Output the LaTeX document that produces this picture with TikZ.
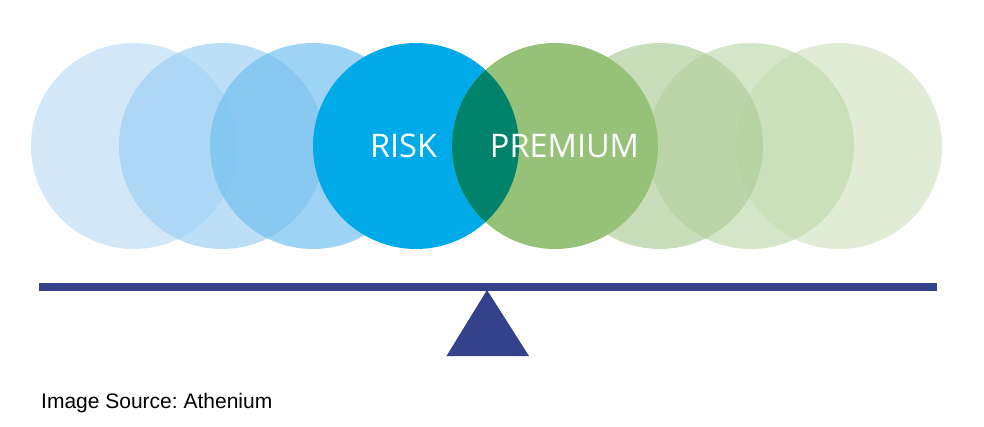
\documentclass[tikz,border=0pt]{standalone}
\usepackage{fontspec}
\usepackage{xcolor}
\usepackage{tikz}
\usetikzlibrary{positioning,calc}
\newfontfamily\labelfont{Open Sans}
\newfontfamily\notefont{Liberation Sans}
\frenchspacing

\definecolor{riskblue}{RGB}{0,170,232}
\definecolor{premgreen}{RGB}{150,193,120}
\definecolor{overlapteal}{RGB}{0,130,107}
\definecolor{beamblue}{RGB}{51,66,138}
\definecolor{blueA}{RGB}{191,222,246}
\definecolor{blueB}{RGB}{159,209,244}
\definecolor{blueC}{RGB}{115,192,239}
\definecolor{greenA}{RGB}{211,228,196}
\definecolor{greenB}{RGB}{194,219,176}
\definecolor{greenC}{RGB}{176,206,155}

\begin{document}
\begin{tikzpicture}[
    x=1pt, y=-1pt,
    disc/.style={circle, minimum size=206pt, inner sep=0pt},
    faded/.style={disc, fill opacity=0.7},
    word/.style={text=white, anchor=base, font=\labelfont\fontsize{32.5}{32.5}\selectfont}
]
    \useasboundingbox (0,0) rectangle (984,426);
    % blue side
    \node[faded, fill=blueA] (b1) at (134,146) {};
    \node[faded, fill=blueB] (b2) at (222,146) {};
    \node[faded, fill=blueC] (b3) at (313,146) {};
    % green side
    \node[faded, fill=greenA] (g3) at (839,146) {};
    \node[faded, fill=greenB] (g2) at (751,146) {};
    \node[faded, fill=greenC] (g1) at (660,146) {};
    % the two main discs
    \node[disc, fill=riskblue] (riskdisc) at (416,146) {};
    \node[disc, fill=premgreen] (premdisc) at (555,146) {};
    \begin{scope}
        \clip (riskdisc.center) circle (103);
        \fill[overlapteal] (premdisc.center) circle (103);
    \end{scope}
    \node[word] (risk) at (403.5,157.5) {RISK};
    \node[word] (premium) at (564.5,157.5) {PREMIUM};
    % scale
    \node[rectangle, fill=beamblue, minimum width=898pt, minimum height=8pt, inner sep=0pt] (beam) at (488,287) {};
    \coordinate (tip) at (487,290);
    \fill[beamblue] (tip) -- (446.5,356) -- (529,356) -- cycle;
    \node[anchor=base west, inner sep=0pt, font=\notefont\fontsize{21}{21}\selectfont] (source) at (41,408) {Image Source: Athenium};
\end{tikzpicture}
\end{document}
